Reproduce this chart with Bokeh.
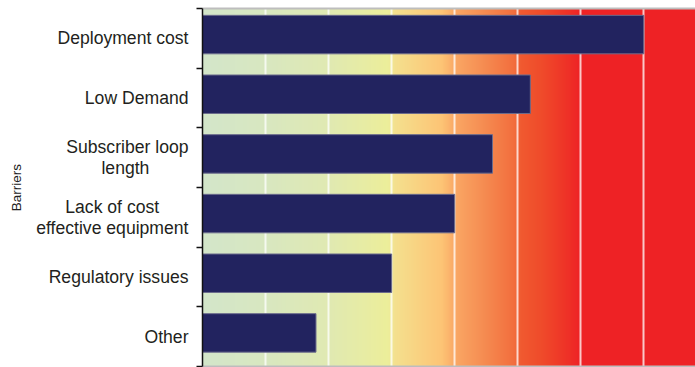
import numpy as np
from bokeh.plotting import figure
from bokeh.models import (Range1d, LinearAxis, FixedTicker, ColumnDataSource)
from bokeh.embed import file_html
from bokeh.resources import INLINE

# ---- data ----
categories = ["Deployment cost", "Low Demand", "Subscriber loop\nlength",
              "Lack of cost\neffective equipment", "Regulatory issues", "Other"]
values = [70, 52, 46, 40, 30, 18]
y_title = "Barriers"
x_max = 78.2
grid_ticks = [10, 20, 30, 40, 50, 60, 70]

# background gradient stops (style)
grad_pos = [0, 10, 20, 29.5, 30.5, 38, 40, 45, 49.5, 50.5, 54, 59, 60, 78.2]
grad_col = ["#d3e6ca", "#d8e7c0", "#e0e9b2", "#ecee9a", "#f4e08e", "#fdc475",
            "#faa865", "#f58a50", "#f26d3d", "#f05a30", "#ef4a2a", "#ee2a26",
            "#ee2225", "#ee2225"]

# approximate Arial advance widths (em) used to centre the lines of the
# two-line tick labels (style only)
_W = {" ": .278, "L": .556, "S": .667, "a": .556, "b": .556, "c": .5, "e": .556,
      "f": .278, "g": .556, "h": .556, "i": .222, "k": .5, "l": .222, "m": .833,
      "n": .556, "o": .556, "p": .556, "q": .556, "r": .333, "s": .5, "t": .278,
      "u": .556, "v": .5}
NBSP = "\u00a0"


def centre_lines(label):
    lines = label.split("\n")
    if len(lines) == 1:
        return label
    widths = [sum(_W.get(ch, .556) for ch in ln) for ln in lines]
    wmax = max(widths)
    out = []
    for ln, w in zip(lines, widths):
        k = int(round((wmax - w) / 2 / _W[" "]))
        out.append(ln + NBSP * k)
    return "\n".join(out)


n = len(categories)
# slot centre of each category (first category on top)
slot = [n - i - 0.5 for i in range(n)]

p = figure(width=695, height=367, output_backend="svg", toolbar_location=None,
           x_range=Range1d(0, x_max), y_range=Range1d(0, n),
           min_border_left=202, min_border_right=0, min_border_top=8,
           min_border_bottom=1)
p.outline_line_color = None
p.background_fill_color = None
p.border_fill_color = "white"

# gradient background image
N = 782
xs = np.linspace(0, x_max, N)
rgb = np.array([[int(c[i:i + 2], 16) for i in (1, 3, 5)] for c in grad_col], dtype=float)
img = np.zeros((1, N), dtype=np.uint32)
view = img.view(dtype=np.uint8).reshape((1, N, 4))
for k in range(3):
    view[0, :, k] = np.round(np.interp(xs, grad_pos, rgb[:, k])).astype(np.uint8)
view[0, :, 3] = 255
p.image_rgba(image=[img], x=0, y=0, dw=x_max, dh=n, level="image")

# grid
p.xgrid.ticker = FixedTicker(ticks=grid_ticks)
p.xgrid.grid_line_color = "white"
p.xgrid.grid_line_width = 2
p.xgrid.grid_line_alpha = 0.75
p.ygrid.grid_line_color = None

# bars
src = ColumnDataSource(dict(cat=categories, val=values,
                            y=[s + 0.063 for s in slot]))
p.hbar(y="y", right="val", left=0, height=0.645,
       source=src, fill_color="#22235f", line_color="#6b6b8c", line_width=1)

# x axes (gray frame lines)
p.xaxis.ticker = FixedTicker(ticks=[])
p.xaxis.axis_line_color = "#bdbdbd"
p.xaxis.axis_line_width = 2
p.xaxis.major_tick_line_color = None
p.xaxis.minor_tick_line_color = None
top = LinearAxis(ticker=FixedTicker(ticks=[]), axis_line_color="#bdbdbd",
                 axis_line_width=2, major_tick_line_color=None,
                 minor_tick_line_color=None)
p.add_layout(top, "above")

# y axis: labels at category centres, tick marks on category boundaries
yax = p.yaxis[0]
yax.ticker = FixedTicker(ticks=slot, minor_ticks=list(range(n + 1)))
yax.major_label_overrides = {s: centre_lines(c) for s, c in zip(slot, categories)}
yax.major_tick_line_color = None
yax.major_tick_out = 6
yax.major_tick_in = 0
yax.minor_tick_out = 6
yax.minor_tick_in = 0
yax.minor_tick_line_color = "#111111"
yax.minor_tick_line_width = 1.5
yax.axis_line_color = "#111111"
yax.axis_line_width = 1.5
yax.major_label_standoff = 8
yax.major_label_text_font = "Liberation Sans"
yax.major_label_text_font_size = "17.6px"
yax.major_label_text_color = "#231f20"
yax.major_label_text_line_height = 1.05
yax.axis_label = y_title
yax.axis_label_text_font = "Liberation Sans"
yax.axis_label_text_font_size = "13.5px"
yax.axis_label_text_font_style = "normal"
yax.axis_label_text_color = "#222222"
yax.axis_label_standoff = 9

open("out.html", "w").write(file_html(p, INLINE))
